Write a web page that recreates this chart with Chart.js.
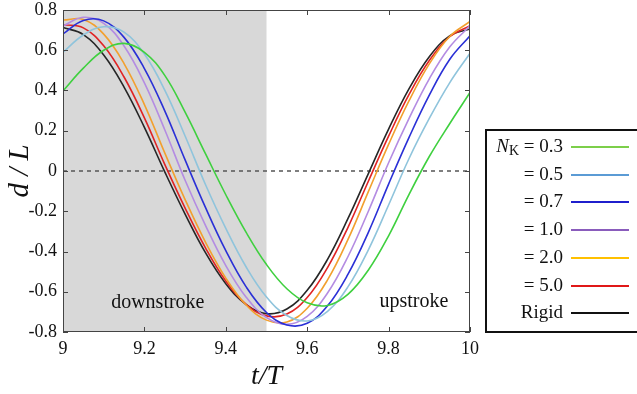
<!DOCTYPE html>
<html>
<head>
<meta charset="utf-8">
<script src="https://cdn.jsdelivr.net/npm/chart.js@4/dist/chart.umd.min.js"></script>
<style>
  body { margin: 0; background: #fff; }
  #wrap { position: relative; width: 637px; height: 394px; overflow: hidden; }
  #legend { position: absolute; left: 485px; top: 129px; width: 170px; height: 204px;
            border: 2px solid #111; box-sizing: border-box; }
  .lbl { position: absolute; left: 0; width: 563px; text-align: right; line-height: 24px; height: 24px;
         font: 19px "Liberation Serif", serif; color: #111; white-space: nowrap; }
  .lbl sub { font-size: 14px; vertical-align: -3px; }
  .swatch { position: absolute; left: 571px; width: 58px; height: 2px; }
</style>
</head>
<body>
<div id="wrap">
  <canvas id="chart" width="637" height="394"></canvas>
  <div id="legend"></div>
</div>
<script>
// t/T sample positions
const tValues = [9.00, 9.05, 9.10, 9.15, 9.20, 9.25, 9.30, 9.35, 9.40, 9.45, 9.50,
                 9.55, 9.60, 9.65, 9.70, 9.75, 9.80, 9.85, 9.90, 9.95, 10.00];

// d/L for each stiffness
const nk03 = [0.398, 0.511, 0.600, 0.634, 0.590, 0.475, 0.292, 0.086, -0.118, -0.305, -0.465,
              -0.585, -0.655, -0.668, -0.613, -0.493, -0.322, -0.117, 0.072, 0.235, 0.390];
const nk05 = [0.590, 0.676, 0.717, 0.690, 0.581, 0.402, 0.174, -0.067, -0.285, -0.477, -0.626,
              -0.718, -0.745, -0.697, -0.576, -0.393, -0.169, 0.061, 0.261, 0.438, 0.585];
const nk07 = [0.681, 0.748, 0.746, 0.664, 0.509, 0.299, 0.055, -0.181, -0.396, -0.576, -0.703,
              -0.765, -0.757, -0.670, -0.514, -0.306, -0.065, 0.166, 0.377, 0.554, 0.672];
const nk10 = [0.721, 0.764, 0.734, 0.621, 0.438, 0.205, -0.046, -0.270, -0.470, -0.627, -0.728,
              -0.762, -0.722, -0.606, -0.426, -0.201, 0.041, 0.260, 0.458, 0.616, 0.721];
const nk20 = [0.750, 0.753, 0.680, 0.534, 0.330, 0.090, -0.142, -0.353, -0.532, -0.666, -0.741,
              -0.750, -0.682, -0.541, -0.341, -0.104, 0.132, 0.348, 0.532, 0.668, 0.743];
const nk50 = [0.727, 0.711, 0.622, 0.467, 0.264, 0.033, -0.184, -0.382, -0.547, -0.663, -0.720,
              -0.711, -0.629, -0.480, -0.281, -0.052, 0.173, 0.379, 0.549, 0.667, 0.722];
const rigid = [0.713, 0.678, 0.576, 0.417, 0.217, -0.004, -0.214, -0.406, -0.560, -0.664, -0.709,
               -0.686, -0.593, -0.439, -0.237, -0.014, 0.208, 0.408, 0.568, 0.671, 0.706];

const seriesLabels = ["0.3", "0.5", "0.7", "1.0", "2.0", "5.0", "Rigid"];
const seriesValues = [nk03, nk05, nk07, nk10, nk20, nk50, rigid];

const xTickValues = [9, 9.2, 9.4, 9.6, 9.8, 10];
const xTickLabels = ["9", "9.2", "9.4", "9.6", "9.8", "10"];
const yTickValues = [-0.8, -0.6, -0.4, -0.2, 0, 0.2, 0.4, 0.6, 0.8];
const yTickLabels = ["-0.8", "-0.6", "-0.4", "-0.2", "0", "0.2", "0.4", "0.6", "0.8"];

const downstrokeRange = [9, 9.5];
const phaseNotes = [
  { text: "downstroke", x: 9.233, y: -0.655 },
  { text: "upstroke", x: 9.862, y: -0.652 }
];

const lineColors = ["#3fd03f", "#8fc4dc", "#2a30d6", "#b48ce2", "#f2a02e", "#e02424", "#262626"];
const legendColors = ["#7ccf4a", "#5b9bd5", "#1f1fcc", "#8a5cbc", "#ffc000", "#e01818", "#111111"];

const serif = '"Liberation Serif", "Times New Roman", serif';

const decor = {
  id: "decor",
  beforeDatasetsDraw(chart) {
    const { ctx, chartArea: a, scales: { x, y } } = chart;
    ctx.save();
    const x0 = x.getPixelForValue(downstrokeRange[0]);
    const x1 = x.getPixelForValue(downstrokeRange[1]);
    ctx.fillStyle = "#d8d8d8";
    ctx.fillRect(x0, a.top, x1 - x0, a.bottom - a.top);

    const yz = y.getPixelForValue(0);
    ctx.strokeStyle = "#555";
    ctx.lineWidth = 1.5;
    ctx.setLineDash([4, 4]);
    ctx.beginPath();
    ctx.moveTo(a.left, yz);
    ctx.lineTo(a.right, yz);
    ctx.stroke();
    ctx.restore();
  },
  afterDatasetsDraw(chart) {
    const { ctx, chartArea: a, scales: { x, y } } = chart;
    ctx.save();
    // frame with inward ticks
    ctx.strokeStyle = "#444";
    ctx.lineWidth = 1;
    ctx.strokeRect(a.left + 0.5, a.top + 0.5, a.right - a.left - 1, a.bottom - a.top - 1);
    ctx.beginPath();
    xTickValues.forEach(v => {
      const px = Math.round(x.getPixelForValue(v)) + 0.5;
      ctx.moveTo(px, a.bottom); ctx.lineTo(px, a.bottom - 5);
      ctx.moveTo(px, a.top); ctx.lineTo(px, a.top + 5);
    });
    yTickValues.forEach(v => {
      const py = Math.round(y.getPixelForValue(v)) + 0.5;
      ctx.moveTo(a.left, py); ctx.lineTo(a.left + 5, py);
      ctx.moveTo(a.right, py); ctx.lineTo(a.right - 5, py);
    });
    ctx.stroke();

    ctx.fillStyle = "#111";
    ctx.font = "20px " + serif;
    ctx.textAlign = "center";
    ctx.textBaseline = "middle";
    phaseNotes.forEach(n => {
      ctx.fillText(n.text, x.getPixelForValue(n.x), y.getPixelForValue(n.y));
    });

    // axis titles
    ctx.font = "italic 28px " + serif;
    ctx.fillText("t/T", (a.left + a.right) / 2, 377);
    ctx.translate(20, (a.top + a.bottom) / 2);
    ctx.rotate(-Math.PI / 2);
    ctx.font = "italic 29px " + serif;
    ctx.fillText("d / L", 0, 0);
    ctx.restore();
  }
};

const datasets = seriesValues.map((vals, i) => ({
  label: seriesLabels[i],
  data: tValues.map((t, j) => ({ x: t, y: vals[j] })),
  borderColor: lineColors[i],
  borderWidth: 1.6,
  pointRadius: 0,
  tension: 0.4,
  fill: false
}));

new Chart(document.getElementById("chart"), {
  type: "line",
  data: { datasets },
  options: {
    responsive: false,
    animation: false,
    layout: { padding: { top: 10, right: 167, left: 0, bottom: 0 } },
    plugins: { legend: { display: false }, tooltip: { enabled: false } },
    scales: {
      x: {
        type: "linear",
        min: 9,
        max: 10,
        grid: { display: false, drawTicks: false },
        border: { display: false },
        afterFit: s => { s.height = 62; s.paddingLeft = 0; s.paddingRight = 0; },
        afterBuildTicks: s => { s.ticks = xTickValues.map(v => ({ value: v })); },
        ticks: {
          padding: 6,
          color: "#111",
          font: { family: serif, size: 18 },
          maxRotation: 0,
          callback: (v, i) => xTickLabels[i]
        }
      },
      y: {
        min: -0.8,
        max: 0.8,
        grid: { display: false, drawTicks: false },
        border: { display: false },
        afterFit: s => { s.width = 63; s.paddingTop = 0; s.paddingBottom = 0; },
        afterBuildTicks: s => { s.ticks = yTickValues.map(v => ({ value: v })); },
        ticks: {
          padding: 6,
          color: "#111",
          font: { family: serif, size: 18 },
          callback: (v, i) => yTickLabels[i]
        }
      }
    }
  },
  plugins: [decor]
});

// legend, drawn as html so the subscript stays real text
const legend = document.getElementById("wrap");
seriesLabels.forEach((name, i) => {
  const cy = 147 + i * 27.7;
  const lbl = document.createElement("div");
  lbl.className = "lbl";
  lbl.style.top = (cy - 12) + "px";
  if (i === 0) {
    lbl.innerHTML = "<i>N</i><sub>K</sub> = " + name;
  } else if (name === "Rigid") {
    lbl.textContent = name;
  } else {
    lbl.textContent = "= " + name;
  }
  const sw = document.createElement("div");
  sw.className = "swatch";
  sw.style.top = (cy - 1) + "px";
  sw.style.background = legendColors[i];
  legend.appendChild(lbl);
  legend.appendChild(sw);
});
</script>
</body>
</html>
